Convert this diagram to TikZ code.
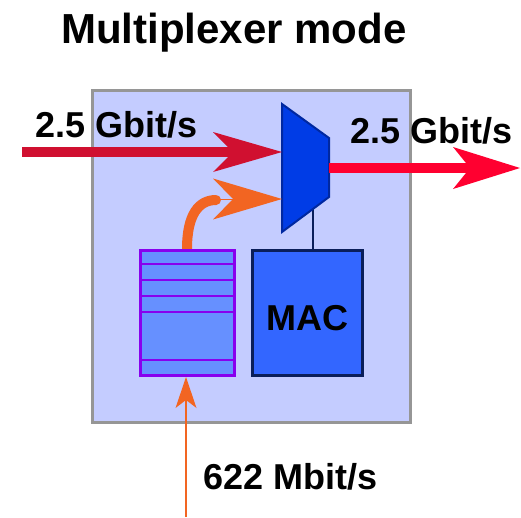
\documentclass[tikz,border=0pt]{standalone}
\usepackage{fontspec}
\setmainfont{Liberation Sans}
\usetikzlibrary{arrows.meta}
\definecolor{boxfill}{RGB}{196,204,255}
\definecolor{boxline}{RGB}{150,150,150}
\definecolor{muxfill}{RGB}{0,60,230}
\definecolor{muxline}{RGB}{0,40,160}
\definecolor{macfill}{RGB}{51,102,255}
\definecolor{macline}{RGB}{10,30,90}
\definecolor{fifofill}{RGB}{102,144,255}
\definecolor{fifoline}{RGB}{136,0,238}
\definecolor{inred}{RGB}{208,16,48}
\definecolor{outred}{RGB}{255,0,48}
\definecolor{orng}{RGB}{242,101,34}
\begin{document}
\begin{tikzpicture}[x=1pt,y=-1pt,
  lbl/.style={font=\fontsize{36}{40}\selectfont\bfseries, inner sep=0pt, anchor=base west},
  fat/.style={line width=10pt},
  blockbox/.style={draw=#1, line width=2.5pt, inner sep=0pt, anchor=north west},
]
\useasboundingbox (0,0) rectangle (521,517);
% outer box
\node[blockbox=boxline, fill=boxfill, minimum width=318pt, minimum height=332pt] (box) at (91,89) {};
% coordinates
\coordinate (inL) at (22,152);
\coordinate (muxin1) at (282,152);
\coordinate (muxin2) at (282,199);
\coordinate (muxout) at (329,168);
\coordinate (muxbot) at (313,209);
\coordinate (outR) at (520,168);
\coordinate (fifotop) at (187,249);
\coordinate (curveend) at (216,200);
\coordinate (headback) at (213,199);
\coordinate (bottomin) at (186,517);
\coordinate (fifoin) at (186,377);
% orange curve (behind fifo)
\draw[orng, fat, line cap=round] (fifotop) .. controls (187,214) and (199,200) .. (curveend);
% fifo
\node[blockbox=fifoline, fill=fifofill, line width=2.5pt, minimum width=94pt, minimum height=125pt] (fifo) at (139,249) {};
\foreach \yy in {264,280,296,312,360}
  \draw[fifoline, line width=2.5pt] (fifo.west |- 0,\yy) -- (fifo.east |- 0,\yy);
% MAC
\node[blockbox=macline, fill=macfill, minimum width=110pt, minimum height=125pt,
      font=\fontsize{36}{40}\selectfont\bfseries, text height=35pt, text depth=0pt] (mac) at (251,249) {MAC};
\draw[macline, line width=2pt] (muxbot) -- (mac.north -| muxbot);
% mux
\draw[muxline, fill=muxfill, line width=2pt, line join=miter] (282,104) -- (329,138) -- (329,197) -- (282,232) -- cycle;
% arrows
\draw[inred, fat, -{Stealth[length=69pt,width=40pt,inset=20pt,line width=0pt]}] (inL) -- (muxin1);
\draw[orng, line width=0.1pt, -{Stealth[length=69pt,width=41pt,inset=20pt,line width=0pt]}] (headback) -- (muxin2);
\draw[outred, fat, -{Stealth[length=67pt,width=42pt,inset=17pt,line width=0pt]}] (muxout) -- (outR);
\draw[orng, line width=2pt, -{Stealth[length=31pt,width=21pt,inset=8pt,line width=0pt]}] (bottomin) -- (fifoin);
% labels
\node[lbl] (lin) at (35,137) {2.5 Gbit/s};
\node[lbl] (lout) at (350,143) {2.5 Gbit/s};
\node[lbl] (lslow) at (203,489) {622 Mbit/s};
\node[inner sep=0pt, anchor=base west, font=\fontsize{42}{46}\selectfont\bfseries] (title) at (61,43) {Multiplexer mode};
\end{tikzpicture}
\end{document}
